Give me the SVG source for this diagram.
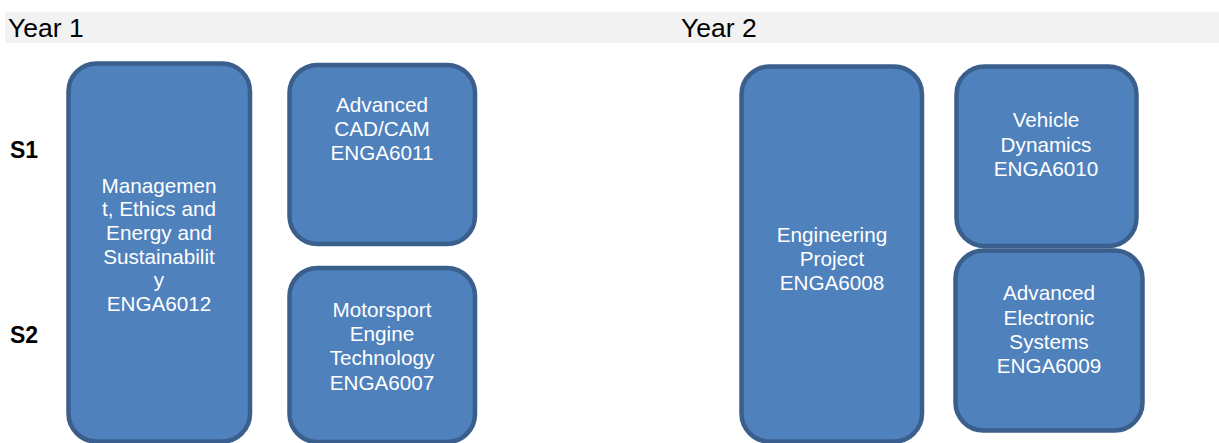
<svg xmlns="http://www.w3.org/2000/svg" width="1219" height="443" viewBox="0 0 1219 443">
<style>
.box{fill:#4f81bd;stroke:#3b5f8c;stroke-width:4.5}
.t{font-family:"Liberation Sans",Arial,sans-serif;font-size:20.7px;fill:#ffffff;text-anchor:middle}
.h{font-family:"Liberation Sans",Arial,sans-serif;font-size:26.5px;fill:#000000}
.s{font-family:"Liberation Sans",Arial,sans-serif;font-size:23px;font-weight:bold;fill:#000000}
</style>
<rect x="5" y="12" width="1214" height="31" fill="#f2f2f2"/>
<text class="h" x="8" y="37">Year 1</text>
<text class="h" x="681" y="37">Year 2</text>
<text class="s" x="10" y="158">S1</text>
<text class="s" x="10" y="343">S2</text>
<g id="n1">
<rect class="box" x="68.5" y="63.5" width="181.5" height="378" rx="28"/>
<text class="t" x="159" y="193">Managemen</text>
<text class="t" x="159" y="216">t, Ethics and</text>
<text class="t" x="159" y="240">Energy and</text>
<text class="t" x="159" y="264">Sustainabilit</text>
<text class="t" x="159" y="287">y</text>
<text class="t" x="159" y="311">ENGA6012</text>
</g>
<g id="n2">
<rect class="box" x="289.5" y="65" width="185.5" height="179" rx="28"/>
<text class="t" x="382" y="112">Advanced</text>
<text class="t" x="382" y="136">CAD/CAM</text>
<text class="t" x="382" y="160">ENGA6011</text>
</g>
<g id="n3">
<rect class="box" x="289.5" y="268" width="185.5" height="174" rx="28"/>
<text class="t" x="382" y="317">Motorsport</text>
<text class="t" x="382" y="341">Engine</text>
<text class="t" x="382" y="365">Technology</text>
<text class="t" x="382" y="390">ENGA6007</text>
</g>
<g id="n4">
<rect class="box" x="741.5" y="66.5" width="180.5" height="375" rx="28"/>
<text class="t" x="832" y="242">Engineering</text>
<text class="t" x="832" y="266">Project</text>
<text class="t" x="832" y="290">ENGA6008</text>
</g>
<g id="n5">
<rect class="box" x="956.5" y="66.5" width="180" height="179.5" rx="28"/>
<text class="t" x="1046" y="127">Vehicle</text>
<text class="t" x="1046" y="152">Dynamics</text>
<text class="t" x="1046" y="176">ENGA6010</text>
</g>
<g id="n6">
<rect class="box" x="955.5" y="250.5" width="187" height="180" rx="28"/>
<text class="t" x="1049" y="300">Advanced</text>
<text class="t" x="1049" y="325">Electronic</text>
<text class="t" x="1049" y="349">Systems</text>
<text class="t" x="1049" y="373">ENGA6009</text>
</g>
<g id="connectors"></g>
</svg>
